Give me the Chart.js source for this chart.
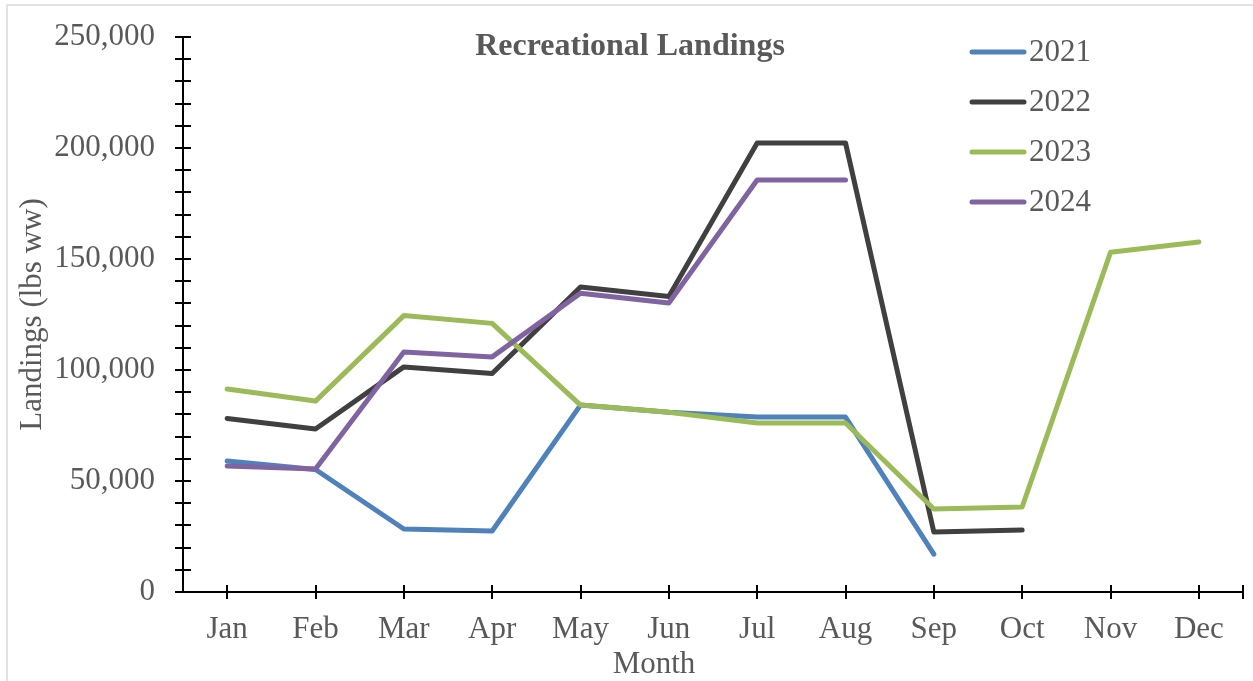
<!DOCTYPE html>
<html>
<head>
<meta charset="utf-8">
<title>Recreational Landings</title>
<script src="https://cdn.jsdelivr.net/npm/chart.js@4.4.1/dist/chart.umd.min.js"></script>
<style>
  html, body { margin: 0; padding: 0; background: #fff; }
  #wrap { position: relative; width: 1253px; height: 681px; }
</style>
</head>
<body>
<div id="wrap"><canvas id="chart-landings"></canvas></div>
<script>
// ---------------------------------------------
// Data (lbs whole weight)
// ---------------------------------------------

const months = ["Jan", "Feb", "Mar", "Apr", "May", "Jun", "Jul", "Aug", "Sep", "Oct", "Nov", "Dec"];

const years = ["2021", "2022", "2023", "2024"];

const landings2021 = [59000, 55200, 28400, 27500, 84200, 81000, 78800, 78800, 17100, null, null, null];
const landings2022 = [78200, 73400, 101400, 98400, 137400, 133100, 202300, 202300, 27000, 27900, null, null];
const landings2023 = [91400, 86000, 124500, 121000, 84200, 81000, 76100, 76100, 37400, 38300, 153000, 157700];
const landings2024 = [56800, 55400, 108100, 105900, 134600, 130200, 185600, 185600, null, null, null, null];

const yMax = 250000;
const yStep = 10000;
const yLabelStep = 50000;

// ---------------------------------------------
// Look
// ---------------------------------------------

const colors = ["#4f81bd", "#404040", "#9bbb59", "#8064a2"];
const textColor = "#595959";
const serif = "'Liberation Serif', 'Times New Roman', serif";

// ---------------------------------------------
// Plugins: frame, crossing ticks, title, legend, x title
// ---------------------------------------------

const decorations = {
  id: "decorations",
  beforeDraw(chart) {
    const ctx = chart.ctx;
    ctx.save();
    ctx.strokeStyle = "#d9d9d9";
    ctx.lineWidth = 1.5;
    ctx.strokeRect(7, 5, chart.width + 20, chart.height + 20);
    ctx.restore();
  },
  afterDraw(chart) {
    const ctx = chart.ctx;
    const area = chart.chartArea;
    const x = chart.scales.x;
    const y = chart.scales.y;

    ctx.save();
    ctx.strokeStyle = "#000";
    ctx.lineWidth = 2;
    ctx.beginPath();
    y.ticks.forEach(t => {
      const py = Math.round(y.getPixelForValue(t.value));
      ctx.moveTo(area.left - 8, py);
      ctx.lineTo(area.left + 8, py);
    });
    months.forEach((m, i) => {
      const px = Math.round(x.getPixelForValue(i));
      ctx.moveTo(px, area.bottom - 7);
      ctx.lineTo(px, area.bottom + 7);
    });
    ctx.moveTo(area.right, area.bottom - 7);
    ctx.lineTo(area.right, area.bottom + 7);
    ctx.stroke();

    // chart title
    ctx.fillStyle = textColor;
    ctx.font = "bold 32px " + serif;
    ctx.textAlign = "center";
    ctx.textBaseline = "alphabetic";
    ctx.fillText("Recreational Landings", 630, 55);

    // x axis title
    ctx.font = "31px " + serif;
    ctx.fillText("Month", 654, 673);

    // legend
    ctx.textAlign = "left";
    ctx.textBaseline = "middle";
    ctx.lineCap = "round";
    ctx.lineWidth = 5;
    years.forEach((label, i) => {
      const ly = 52 + i * 50;
      ctx.strokeStyle = colors[i];
      ctx.beginPath();
      ctx.moveTo(972, ly);
      ctx.lineTo(1024, ly);
      ctx.stroke();
      ctx.fillText(label, 1029, ly + 1);
    });
    ctx.restore();
  }
};

// ---------------------------------------------
// Build chart
// ---------------------------------------------

const series = [landings2021, landings2022, landings2023, landings2024];

new Chart(document.getElementById("chart-landings"), {
  type: "line",
  data: {
    labels: months,
    datasets: series.map((data, i) => ({
      label: years[i],
      data,
      borderColor: colors[i],
      backgroundColor: colors[i],
      borderWidth: 5,
      borderCapStyle: "round",
      borderJoinStyle: "round",
      tension: 0,
      pointRadius: 0,
      spanGaps: false,
      order: series.length - i
    }))
  },
  options: {
    responsive: true,
    maintainAspectRatio: false,
    animation: false,
    layout: { padding: { top: 37, right: 10, bottom: 0, left: 0 } },
    plugins: {
      legend: { display: false },
      title: { display: false },
      tooltip: { enabled: false }
    },
    scales: {
      x: {
        offset: true,
        grid: { display: false, drawTicks: false },
        border: { display: true, color: "#000", width: 2 },
        ticks: {
          color: textColor,
          padding: 19,
          font: { family: serif, size: 31 },
          maxRotation: 0,
          autoSkip: false
        },
        afterFit: s => { s.height = 89; }
      },
      y: {
        min: 0,
        max: yMax,
        grid: { display: false, drawTicks: false },
        border: { display: true, color: "#000", width: 2 },
        ticks: {
          stepSize: yStep,
          maxTicksLimit: 40,
          autoSkip: false,
          color: textColor,
          padding: 28,
          font: { family: serif, size: 31 },
          callback: v => (v % yLabelStep === 0 ? v.toLocaleString("en-US") : "")
        },
        title: {
          display: true,
          text: "Landings (lbs ww)",
          color: textColor,
          font: { family: serif, size: 31 },
          padding: { top: 14, bottom: 0 }
        },
        afterFit: s => {
          s.width = 183;
          s.paddingTop = 0;
          s.paddingBottom = 0;
        }
      }
    }
  },
  plugins: [decorations]
});
</script>
</body>
</html>
